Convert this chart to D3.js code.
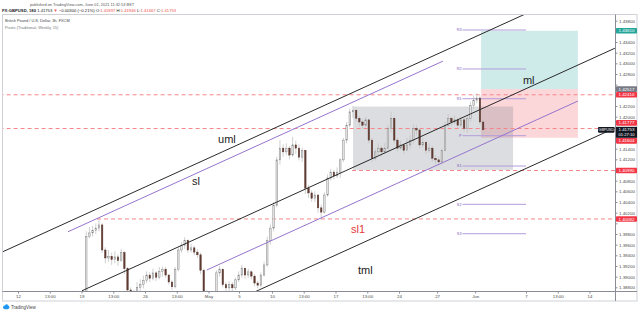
<!DOCTYPE html>
<html>
<head>
<meta charset="utf-8">
<script src="https://cdn.jsdelivr.net/npm/d3@7"></script>
<style>
body { margin: 0; background: #fff; }
svg { display: block; }
text { font-family: "Liberation Sans", Arial, sans-serif; }
</style>
</head>
<body>
<div id="chart"></div>
<script>
// GBPUSD candles, 6h buckets (open = previous close)
const openFirst = 1.3840;
const closes = [1.3850, 1.3975, 1.3982, 1.3987, 1.3991, 1.3997, 1.3950, 1.3935, 1.3938, 1.3932,
	1.3937, 1.3930, 1.3945, 1.3915, 1.3875, 1.3868, 1.3862, 1.3880, 1.3885, 1.3893,
	1.3903, 1.3897, 1.3907, 1.3899, 1.3910, 1.3914, 1.3903, 1.3890, 1.3881, 1.3914,
	1.3950, 1.3959, 1.3968, 1.3950, 1.3954, 1.3946, 1.3941, 1.3912, 1.3871, 1.3840,
	1.3820, 1.3830, 1.3907, 1.3914, 1.3885, 1.3879, 1.3885, 1.3879, 1.3894, 1.3903,
	1.3916, 1.3903, 1.3909, 1.3901, 1.3888, 1.3884, 1.3903, 1.3922, 1.3968, 1.3991,
	1.4034, 1.4119, 1.4141, 1.4134, 1.4141, 1.4128, 1.4147, 1.4141, 1.4124, 1.4137,
	1.4066, 1.4057, 1.4047, 1.4053, 1.4029, 1.4021, 1.4053, 1.4085, 1.4096, 1.4089,
	1.4096, 1.4119, 1.4156, 1.4184, 1.4209, 1.4212, 1.4197, 1.4190, 1.4184, 1.4194,
	1.4156, 1.4122, 1.4134, 1.4141, 1.4134, 1.4141, 1.4178, 1.4197, 1.4156, 1.4141,
	1.4147, 1.4137, 1.4147, 1.4156, 1.4178, 1.4175, 1.4147, 1.4152, 1.4137, 1.4141,
	1.4122, 1.4119, 1.4115, 1.4137, 1.4184, 1.4197, 1.4190, 1.4194, 1.4184, 1.4194,
	1.4178, 1.4197, 1.4221, 1.4231, 1.4235, 1.4190, 1.41753];
const highs = [1.3868, 1.3985, 1.3993, 1.3995, 1.4000, 1.4008, 1.4000, 1.3955, 1.3950, 1.3945,
	1.3948, 1.3942, 1.3952, 1.3948, 1.3918, 1.3880, 1.3875, 1.3890, 1.3895, 1.3902,
	1.3910, 1.3908, 1.3915, 1.3910, 1.3918, 1.3919, 1.3918, 1.3905, 1.3893, 1.3918,
	1.3955, 1.3965, 1.3974, 1.3970, 1.3962, 1.3958, 1.3952, 1.3945, 1.3915, 1.3875,
	1.3845, 1.3850, 1.3912, 1.3920, 1.3915, 1.3890, 1.3892, 1.3890, 1.3898, 1.3910,
	1.3922, 1.3915, 1.3915, 1.3912, 1.3905, 1.3892, 1.3908, 1.3928, 1.3975, 1.3998,
	1.4040, 1.4125, 1.4156, 1.4148, 1.4150, 1.4145, 1.4162, 1.4155, 1.4148, 1.4142,
	1.4138, 1.4072, 1.4062, 1.4060, 1.4055, 1.4035, 1.4058, 1.4092, 1.4102, 1.4100,
	1.4105, 1.4122, 1.4160, 1.4190, 1.4215, 1.4220, 1.4215, 1.4202, 1.4195, 1.4200,
	1.4196, 1.4160, 1.4140, 1.4150, 1.4145, 1.4150, 1.4185, 1.4209, 1.4200, 1.4160,
	1.4155, 1.4150, 1.4160, 1.4165, 1.4185, 1.4184, 1.4178, 1.4160, 1.4155, 1.4150,
	1.4145, 1.4128, 1.4125, 1.4140, 1.4190, 1.4205, 1.4200, 1.4202, 1.4198, 1.4200,
	1.4198, 1.4202, 1.4228, 1.4240, 1.4244, 1.4240, 1.41946];
const lows = [1.3835, 1.3848, 1.3972, 1.3975, 1.3980, 1.3985, 1.3945, 1.3925, 1.3928, 1.3922,
	1.3925, 1.3920, 1.3928, 1.3905, 1.3865, 1.3855, 1.3850, 1.3860, 1.3870, 1.3878,
	1.3888, 1.3890, 1.3893, 1.3892, 1.3895, 1.3900, 1.3898, 1.3885, 1.3875, 1.3878,
	1.3910, 1.3945, 1.3952, 1.3945, 1.3945, 1.3940, 1.3935, 1.3905, 1.3860, 1.3830,
	1.3810, 1.3805, 1.3825, 1.3900, 1.3880, 1.3872, 1.3870, 1.3870, 1.3875, 1.3890,
	1.3898, 1.3896, 1.3898, 1.3895, 1.3882, 1.3878, 1.3880, 1.3900, 1.3918, 1.3960,
	1.3985, 1.4030, 1.4110, 1.4125, 1.4128, 1.4120, 1.4125, 1.4130, 1.4118, 1.4115,
	1.4055, 1.4048, 1.4040, 1.4040, 1.4020, 1.4006, 1.4018, 1.4050, 1.4080, 1.4082,
	1.4085, 1.4085, 1.4115, 1.4150, 1.4180, 1.4198, 1.4190, 1.4182, 1.4178, 1.4180,
	1.4150, 1.4115, 1.4118, 1.4128, 1.4125, 1.4130, 1.4135, 1.4170, 1.4150, 1.4135,
	1.4138, 1.4130, 1.4138, 1.4140, 1.4150, 1.4165, 1.4140, 1.4142, 1.4130, 1.4132,
	1.4115, 1.4110, 1.4108, 1.4110, 1.4135, 1.4180, 1.4182, 1.4185, 1.4178, 1.4180,
	1.4172, 1.4170, 1.4190, 1.4215, 1.4225, 1.4185, 1.41667];
const firstBarDay = 5;   // Apr 19 = trading day 5 counted from Apr 12
const barsPerDay = 4;

// time axis (trading days from Apr 12)
const timeTickDays = [0, 2.5, 5, 7.5, 10, 12.5, 15, 17.4, 20, 22.5, 25, 27.5, 30, 33, 36, 40, 42.5, 45];
const timeTickLabels = ["12", "13:00", "19", "13:00", "26", "13:00", "May", "5", "10", "13:00",
	"17", "13:00", "24", "27", "Jun", "7", "13:00", "14"];
const priceTicks = d3.range(1.388, 1.4385, 0.002);

// pitchfork drawings, [day, price] endpoints
const medianLines = [
	[[5.04, 1.38736], [47.0, 1.43283]],
	[[-1.42, 1.39443], [42.68, 1.44221]],
	[[18.66, 1.38716], [47.0, 1.41787]]
];
const slidingLines = [
	[[3.94, 1.39842], [33.46, 1.43041]],
	[[14.86, 1.39124], [44.09, 1.42293]]
];
const lineNames = ["uml", "sl", "ml", "sl1", "tml"];
const lineNameAt = [[15.75, 1.41506], [13.7, 1.40718], [39.76, 1.42612], [26.22, 1.39818], [26.77, 1.39050]];

// horizontal levels
const levelPrices = [1.42410, 1.41777, 1.40990, 1.40082];
const levelStartDays = [-2, -2, 26.3, 6.22];
const pivotNames = ["R3", "R2", "R1", "P", "S1", "S2", "S3"];
const pivotPrices = [1.43625, 1.42894, 1.42336, 1.41643, 1.41074, 1.40356, 1.39805];
const pivotDays = [35, 40];

// boxes
const rangeBox = { d0: 26.38, d1: 38.98, top: 1.4219, bottom: 1.4100 };
const position = { d0: 36.46, d1: 44.09, target: 1.43610, entry: 1.42517, stop: 1.41604 };
const lastPrice = 1.41753;

var width = 640, height = 314;
var plot = { left: 3, top: 15, right: 615, bottom: 291 };

var svg = d3.select("#chart").append("svg").attr("width", width).attr("height", height);

var x = d3.scaleLinear().domain([0, 45]).range([18, 589.5]);
var y = d3.scaleLinear().domain([1.38731, 1.43906]).range([plot.bottom, plot.top]);

svg.append("clipPath").attr("id", "clip")
	.append("rect")
	.attr("x", plot.left).attr("y", plot.top)
	.attr("width", plot.right - plot.left).attr("height", plot.bottom - plot.top);

// header
svg.append("text").attr("x", 82).attr("y", 6).attr("text-anchor", "middle")
	.attr("font-size", 3.9).attr("fill", "#555")
	.text("published on TradingView.com, June 01, 2021 11:32:53 BST");

var head = svg.append("text").attr("x", 2).attr("y", 12.3).attr("font-size", 4.2).attr("fill", "#222");
head.append("tspan").attr("font-weight", "bold").text("FX:GBPUSD, 180 ");
head.append("tspan").text("1.41753 ");
head.append("tspan").attr("fill", "#ef5350").text("\u25BC");
head.append("tspan").text(" \u22120.00300 (\u22120.21%) O:");
head.append("tspan").attr("fill", "#ef5350").text("1.41897");
head.append("tspan").text(" H:");
head.append("tspan").attr("fill", "#ef5350").text("1.41946");
head.append("tspan").text(" L:");
head.append("tspan").attr("fill", "#ef5350").text("1.41667");
head.append("tspan").text(" C:");
head.append("tspan").attr("fill", "#ef5350").text("1.41753");

// pane frame
svg.append("rect").attr("x", 2.5).attr("y", 14.5).attr("width", 634.5).attr("height", 286.5)
	.attr("fill", "none").attr("stroke", "#cfd1d6");
svg.append("line").attr("x1", plot.right + 0.5).attr("x2", plot.right + 0.5)
	.attr("y1", 14.5).attr("y2", 301).attr("stroke", "#8a8d95");
svg.append("line").attr("x1", 2.5).attr("x2", 637).attr("y1", plot.bottom + 0.5).attr("y2", plot.bottom + 0.5)
	.attr("stroke", "#8a8d95");

var chart = svg.append("g").attr("clip-path", "url(#clip)");

// position tool + range box
chart.append("rect")
	.attr("x", x(position.d0)).attr("width", x(position.d1) - x(position.d0))
	.attr("y", y(position.target)).attr("height", y(position.entry) - y(position.target))
	.attr("fill", "rgba(38,166,154,0.22)");
chart.append("rect")
	.attr("x", x(position.d0)).attr("width", x(position.d1) - x(position.d0))
	.attr("y", y(position.entry)).attr("height", y(position.stop) - y(position.entry))
	.attr("fill", "rgba(242,54,69,0.2)");
chart.append("rect")
	.attr("x", x(rangeBox.d0)).attr("width", x(rangeBox.d1) - x(rangeBox.d0))
	.attr("y", y(rangeBox.top)).attr("height", y(rangeBox.bottom) - y(rangeBox.top))
	.attr("fill", "rgba(120,123,134,0.26)");

// dashed levels
chart.selectAll(".level").data(levelPrices).join("line")
	.attr("class", "level")
	.attr("x1", (d, i) => x(levelStartDays[i])).attr("x2", plot.right)
	.attr("y1", (d) => y(d)).attr("y2", (d) => y(d))
	.attr("stroke", "#f6868a").attr("stroke-width", 1).attr("stroke-dasharray", "4,3");

// pivots
chart.selectAll(".pivot").data(pivotPrices).join("line")
	.attr("class", "pivot")
	.attr("x1", x(pivotDays[0])).attr("x2", x(pivotDays[1]))
	.attr("y1", (d) => y(d)).attr("y2", (d) => y(d))
	.attr("stroke", "#b39ddb").attr("stroke-width", 1);
chart.selectAll(".pivot-label").data(pivotPrices).join("text")
	.attr("class", "pivot-label")
	.attr("x", x(pivotDays[0]) - 1).attr("y", (d) => y(d) + 1.3)
	.attr("text-anchor", "end").attr("font-size", 3.8).attr("fill", "#7e57c2")
	.text((d, i) => pivotNames[i]);

// candles
var bars = closes.map((c, i) => ({
	d: firstBarDay + (i + 0.5) / barsPerDay,
	o: i ? closes[i - 1] : openFirst,
	h: highs[i], l: lows[i], c: c
}));
var candle = chart.selectAll(".candle").data(bars).join("g").attr("class", "candle");
candle.append("line")
	.attr("x1", (d) => x(d.d)).attr("x2", (d) => x(d.d))
	.attr("y1", (d) => y(d.h)).attr("y2", (d) => y(d.l))
	.attr("stroke", "#c4c4c4").attr("stroke-width", 0.8);
candle.append("rect")
	.attr("x", (d) => x(d.d) - 0.75).attr("width", 1.5)
	.attr("y", (d) => y(Math.max(d.o, d.c)))
	.attr("height", (d) => Math.max(0.8, Math.abs(y(d.o) - y(d.c))))
	.attr("fill", (d) => (d.c >= d.o ? "#e6e6e6" : "#5e3a31"))
	.attr("stroke", (d) => (d.c >= d.o ? "#7d7d7d" : "#5e3a31"))
	.attr("stroke-width", 0.45);

// pitchfork
var line = d3.line().x((d) => x(d[0])).y((d) => y(d[1]));
chart.selectAll(".fork").data(medianLines).join("path")
	.attr("class", "fork").attr("d", line)
	.attr("fill", "none").attr("stroke", "#2a2a2a").attr("stroke-width", 1);
chart.selectAll(".slide").data(slidingLines).join("path")
	.attr("class", "slide").attr("d", line)
	.attr("fill", "none").attr("stroke", "#9575cd").attr("stroke-width", 1);

chart.selectAll(".name").data(lineNames).join("text")
	.attr("class", "name")
	.attr("x", (d, i) => x(lineNameAt[i][0])).attr("y", (d, i) => y(lineNameAt[i][1]))
	.attr("font-size", 11)
	.attr("fill", (d) => (d === "sl1" ? "#e53935" : "#222"))
	.text((d) => d);

// price axis
var yAxis = svg.append("g").attr("transform", `translate(${plot.right + 0.5},0)`)
	.call(d3.axisRight(y).tickValues(priceTicks).tickFormat(d3.format(".5f")).tickSize(2).tickPadding(1.5));
yAxis.select(".domain").remove();
yAxis.selectAll("line").attr("stroke", "#8a8d95");
yAxis.selectAll("text").attr("font-size", 4.4).attr("fill", "#4a4a4a").attr("font-family", "Liberation Sans, Arial");

// time axis
var xAxis = svg.append("g").attr("transform", `translate(0,${plot.bottom + 0.5})`)
	.call(d3.axisBottom(x).tickValues(timeTickDays).tickFormat((d, i) => timeTickLabels[i]).tickSize(2).tickPadding(1.5));
xAxis.select(".domain").remove();
xAxis.selectAll("line").attr("stroke", "#8a8d95");
xAxis.selectAll("text").attr("font-size", 4.4).attr("fill", "#4a4a4a").attr("font-family", "Liberation Sans, Arial");

// price markers on the axis
var yc = y(lastPrice);
var boxTop = yc - 3, boxBottom = yc + 8;
var markers = [
	{ p: position.target, fill: "#26a69a" },
	{ p: position.entry, fill: "#787b86" },
	{ p: levelPrices[0], fill: "#f23645" },
	{ p: levelPrices[1], fill: "#f23645" },
	{ p: position.stop, fill: "#f23645" },
	{ p: levelPrices[2], fill: "#f23645" },
	{ p: levelPrices[3], fill: "#f23645" }
];
markers.forEach((m) => {
	var my = y(m.p);
	if (my + 2.8 > boxTop && my < yc) my = boxTop - 4;
	else if (my - 2.8 < boxBottom && my >= yc) my = boxBottom + 3;
	m.y = my;
});
// hide grid labels covered by the markers
yAxis.selectAll(".tick").filter((d) => {
	var ty = y(d);
	return markers.some((m) => Math.abs(m.y - ty) < 5.5) || (ty > boxTop - 2 && ty < boxBottom + 2);
}).select("text").remove();

var mk = svg.selectAll(".marker").data(markers).join("g").attr("class", "marker");
mk.append("rect").attr("x", plot.right + 1).attr("y", (d) => d.y - 2.8)
	.attr("width", 21).attr("height", 5.6).attr("rx", 0.8).attr("fill", (d) => d.fill);
mk.append("text").attr("x", plot.right + 3.5).attr("y", (d) => d.y + 1.6)
	.attr("font-size", 4.4).attr("fill", "#fff").text((d) => d3.format(".5f")(d.p));

svg.append("rect").attr("x", plot.right + 1).attr("y", boxTop).attr("width", 21).attr("height", boxBottom - boxTop)
	.attr("fill", "#131722");
svg.append("text").attr("x", plot.right + 3.5).attr("y", yc + 1.6).attr("font-size", 4.4).attr("fill", "#fff").text("1.41753");
svg.append("text").attr("x", plot.right + 3.5).attr("y", yc + 6.4).attr("font-size", 4.1).attr("fill", "#fff").text("01:27:10");
svg.append("rect").attr("x", 598).attr("y", yc - 2.8).attr("width", 16.5).attr("height", 5.6).attr("rx", 0.8)
	.attr("fill", "#131722");
svg.append("text").attr("x", 606.2).attr("y", yc + 1.3).attr("text-anchor", "middle")
	.attr("font-size", 3.6).attr("fill", "#fff").text("GBPUSD");

// legend lines inside the pane
svg.append("text").attr("x", 5).attr("y", 22).attr("font-size", 3.9).attr("fill", "#444")
	.text("British Pound / U.S. Dollar, 3h, FXCM");
svg.append("text").attr("x", 5).attr("y", 28.5).attr("font-size", 3.9).attr("fill", "#777")
	.text("Pivots (Traditional, Weekly, 15)");

// footer logo
var logo = svg.append("g").attr("transform", "translate(3,304)");
logo.append("ellipse").attr("cx", 3.2).attr("cy", 3.2).attr("rx", 3.2).attr("ry", 2).attr("fill", "#2196f3");
logo.append("circle").attr("cx", 3.6).attr("cy", 2).attr("r", 1.7).attr("fill", "#2196f3");
svg.append("text").attr("x", 11).attr("y", 308.5).attr("font-size", 4.5).attr("fill", "#444").text("TradingView");
</script>
</body>
</html>
